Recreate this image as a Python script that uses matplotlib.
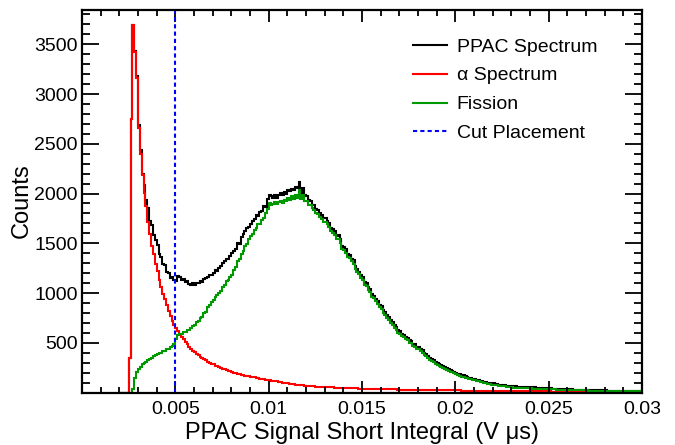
import numpy as np
import matplotlib
matplotlib.use('Agg')
import matplotlib.pyplot as plt
from matplotlib.ticker import MultipleLocator, FuncFormatter

plt.rcParams['font.family'] = ['Liberation Sans', 'DejaVu Sans']

# histogram binning (V us): 0.0001 wide bins from 0.002 to 0.030
bin_lo = 0.002
bin_width = 0.0001
n_bins = 280

# PPAC spectrum (black), counts per bin, rows of 10 bins (0.001 per row)
ppac = [
    0, 0, 0, 0, 0, 350, 2750, 3690, 3430, 3180,
    2690, 2440, 2200, 2090, 1940, 1850, 1720, 1680, 1580, 1535,
    1480, 1390, 1365, 1290, 1280, 1215, 1200, 1150, 1165, 1130,
    1120, 1175, 1160, 1130, 1140, 1110, 1125, 1090, 1085, 1100,
    1080, 1105, 1100, 1120, 1110, 1140, 1150, 1165, 1180, 1185,
    1205, 1230, 1225, 1255, 1270, 1300, 1320, 1345, 1340, 1375,
    1400, 1425, 1445, 1500, 1490, 1560, 1590, 1620, 1650, 1665,
    1695, 1725, 1740, 1780, 1775, 1810, 1825, 1870, 1865, 1950,
    1990, 1975, 1960, 1985, 1955, 1990, 2010, 1985, 2015, 2000,
    2040, 2025, 2050, 2035, 2070, 2060, 2120, 2010, 2060, 1985,
    1975, 1935, 1920, 1885, 1880, 1840, 1830, 1800, 1780, 1750,
    1750, 1720, 1700, 1650, 1640, 1620, 1570, 1580, 1540, 1470,
    1460, 1440, 1390, 1385, 1345, 1330, 1270, 1245, 1215, 1180,
    1165, 1110, 1105, 1060, 1045, 990, 975, 940, 915, 880,
    865, 825, 805, 775, 755, 725, 705, 675, 660, 625,
    615, 588, 578, 556, 548, 524, 518, 492, 483, 461,
    456, 436, 423, 398, 388, 362, 350, 333, 325, 305,
    300, 283, 277, 262, 257, 243, 238, 225, 220, 207,
    201, 190, 186, 174, 171, 161, 158, 148, 146, 138,
    136, 128, 126, 118, 116, 108, 106, 99, 98, 92,
    91, 86, 85, 80, 79, 74, 73, 68, 67, 63,
    63, 60, 61, 58, 59, 56, 57, 54, 55, 52,
    53, 50, 51, 48, 49, 46, 47, 44, 45, 42,
    42, 41, 40, 39, 38, 37, 36, 35, 35, 34,
    33, 32, 31, 30, 30, 29, 28, 28, 27, 27,
    26, 25, 24, 24, 23, 23, 22, 22, 21, 21,
    21, 20, 20, 20, 19, 19, 19, 19, 18, 18,
    18, 18, 17, 17, 17, 17, 16, 16, 16, 16,
]

# alpha spectrum (red)
alpha = [
    0, 0, 0, 0, 0, 350, 2750, 3690, 3420, 3160,
    2660, 2395, 2185, 2005, 1875, 1715, 1595, 1475, 1395, 1295,
    1220, 1128, 1058, 988, 936, 878, 822, 764, 722, 676,
    648, 616, 592, 560, 538, 508, 486, 458, 442, 420,
    406, 388, 376, 358, 348, 334, 324, 310, 301, 289,
    282, 271, 264, 254, 248, 239, 234, 225, 221, 213,
    209, 201, 197, 189, 185, 178, 175, 169, 167, 161,
    159, 153, 151, 145, 143, 137, 136, 131, 130, 125,
    123, 118, 117, 112, 111, 105, 104, 99, 98, 93,
    92, 87, 86, 81, 80, 76, 76, 72, 72, 68,
    67, 65, 64, 62, 61, 60, 59, 58, 57, 56,
    55, 54, 53, 52, 51, 50, 49, 48, 47, 47,
    46, 45, 45, 44, 43, 42, 42, 41, 40, 40,
    39, 39, 38, 38, 37, 37, 36, 36, 35, 35,
    34, 34, 33, 33, 32, 32, 32, 31, 31, 30,
    30, 30, 29, 29, 29, 28, 28, 28, 27, 27,
    27, 26, 26, 26, 25, 25, 25, 25, 24, 24,
    24, 23, 23, 23, 23, 22, 22, 22, 22, 21,
    21, 21, 21, 20, 20, 20, 20, 19, 19, 19,
    19, 18, 18, 18, 18, 17, 17, 17, 17, 16,
    16, 16, 16, 16, 15, 15, 15, 15, 15, 14,
    14, 14, 14, 14, 13, 13, 13, 13, 13, 12,
    12, 12, 12, 12, 12, 11, 11, 11, 11, 11,
    11, 10, 10, 10, 10, 10, 10, 9, 9, 9,
    9, 9, 9, 9, 8, 8, 8, 8, 8, 8,
    8, 8, 7, 7, 7, 7, 7, 7, 7, 7,
    6, 6, 6, 6, 6, 6, 6, 6, 6, 5,
    5, 5, 5, 5, 5, 5, 5, 5, 5, 5,
]

# fission (green)
fission = [
    0, 0, 0, 0, 0, 0, 0, 40, 150, 210,
    235, 260, 285, 300, 310, 330, 340, 350, 370, 375,
    385, 395, 400, 415, 420, 435, 440, 460, 465, 490,
    540, 575, 590, 585, 610, 605, 630, 625, 650, 665,
    678, 705, 718, 745, 755, 795, 805, 855, 875, 905,
    925, 965, 980, 1005, 1025, 1065, 1085, 1125, 1135, 1165,
    1185, 1235, 1265, 1320, 1340, 1395, 1425, 1470, 1495, 1545,
    1575, 1595, 1635, 1655, 1695, 1695, 1730, 1755, 1800, 1845,
    1900, 1880, 1895, 1910, 1890, 1915, 1930, 1905, 1935, 1925,
    1955, 1940, 1975, 1950, 1990, 1960, 2040, 1950, 1990, 1930,
    1930, 1885, 1880, 1850, 1835, 1800, 1795, 1760, 1745, 1710,
    1715, 1690, 1660, 1620, 1605, 1580, 1540, 1545, 1505, 1440,
    1430, 1405, 1365, 1350, 1320, 1295, 1245, 1210, 1190, 1150,
    1135, 1085, 1070, 1035, 1010, 965, 945, 915, 885, 855,
    840, 800, 778, 750, 728, 702, 678, 652, 632, 602,
    592, 565, 555, 533, 525, 502, 495, 470, 461, 440,
    435, 416, 402, 378, 368, 343, 331, 314, 306, 287,
    281, 266, 258, 245, 238, 226, 220, 208, 202, 191,
    185, 175, 169, 159, 155, 146, 142, 134, 131, 124,
    121, 115, 111, 105, 102, 96, 93, 87, 85, 80,
    78, 75, 72, 69, 66, 63, 61, 57, 56, 53,
    51, 50, 49, 48, 47, 46, 45, 44, 43, 42,
    41, 40, 40, 39, 38, 37, 37, 36, 35, 34,
    33, 33, 32, 31, 30, 30, 29, 28, 28, 27,
    26, 26, 25, 24, 24, 23, 23, 22, 22, 21,
    21, 20, 20, 19, 19, 18, 18, 18, 17, 17,
    17, 16, 16, 16, 15, 15, 15, 15, 14, 14,
    14, 14, 13, 13, 13, 13, 12, 12, 12, 12,
]

cut = 0.005
x_max = 0.03
y_max = 3850

edges = bin_lo + bin_width * np.arange(n_bins + 1)

fig = plt.figure(figsize=(6.75, 4.45), dpi=100)
ax = fig.add_axes([82/675, 1 - 392.5/445, 560/675, 383/445])

ax.stairs(ppac, edges, color='black', lw=1.5, label='PPAC Spectrum')
ax.stairs(alpha, edges, color='#ff0000', lw=1.5, label='\u03b1 Spectrum')
ax.stairs(fission, edges, color='#009900', lw=1.5, label='Fission')
ax.axvline(cut, color='#0000ff', lw=1.5, ls=(0, (2, 1.5)), label='Cut Placement')

ax.set_xlim(0, x_max)
ax.set_ylim(0, y_max)

ax.xaxis.set_major_locator(MultipleLocator(0.005))
ax.xaxis.set_minor_locator(MultipleLocator(0.001))
ax.yaxis.set_major_locator(MultipleLocator(500))
ax.yaxis.set_minor_locator(MultipleLocator(100))
ax.xaxis.set_major_formatter(FuncFormatter(lambda v, p: '' if abs(v) < 1e-9 else '%g' % v))
ax.yaxis.set_major_formatter(FuncFormatter(lambda v, p: '' if abs(v) < 1e-9 else '%d' % v))

for s in ax.spines.values():
    s.set_linewidth(1.6)
ax.tick_params(axis='both', which='both', direction='in', top=True, right=True,
               width=1.3, labelsize=14)
ax.tick_params(axis='x', which='major', length=8.3, pad=6.2)
ax.tick_params(axis='x', which='minor', length=4.1)
ax.tick_params(axis='y', which='major', length=12.1, pad=3)
ax.tick_params(axis='y', which='minor', length=6.0)

ax.set_xlabel('PPAC Signal Short Integral (V \u03bcs)', fontsize=17, labelpad=3)
ax.set_ylabel('Counts', fontsize=17, labelpad=1)

leg = ax.legend(loc='upper left', bbox_to_anchor=(413/675, 1 - 38/445),
                bbox_transform=fig.transFigure, frameon=False, fontsize=14,
                handlelength=1.75, handletextpad=0.5, labelspacing=0.58,
                borderpad=0, borderaxespad=0)

fig.savefig('out.png', dpi=100)
